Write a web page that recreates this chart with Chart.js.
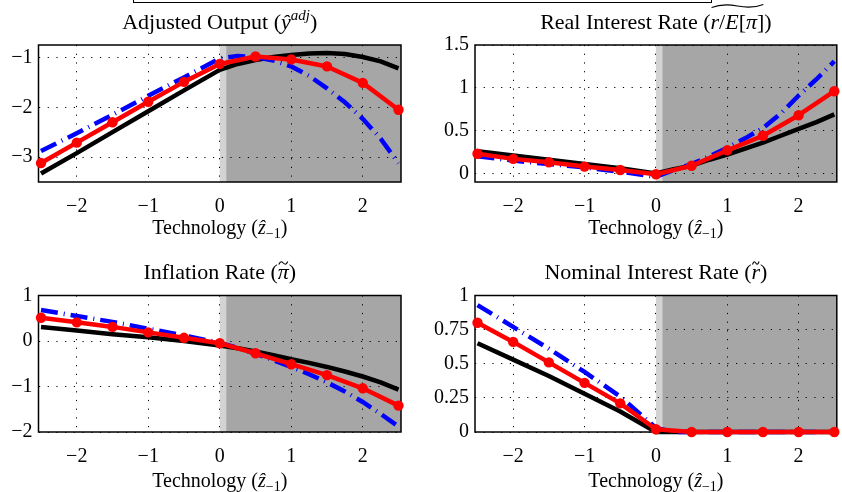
<!DOCTYPE html>
<html>
<head>
<meta charset="utf-8">
<script src="https://cdn.jsdelivr.net/npm/chart.js@4.4.1/dist/chart.umd.min.js"></script>
<style>
  html, body { margin: 0; padding: 0; background: #fff; }
  body { width: 842px; height: 492px; position: relative; overflow: hidden; }
  .panel { position: absolute; width: 421px; }
  .legend-box { position: absolute; left: 133px; top: -10px; width: 577px; height: 11px; border: 1.5px solid #000; }
</style>
</head>
<body>
<div class="legend-box"></div>
<div class="panel" style="left:0;top:0;height:246px"><canvas id="cOutput"></canvas></div>
<div class="panel" style="left:421px;top:0;height:246px"><canvas id="cReal"></canvas></div>
<div class="panel" style="left:0;top:250px;height:242px"><canvas id="cInfl"></canvas></div>
<div class="panel" style="left:421px;top:250px;height:242px"><canvas id="cNom"></canvas></div>
<script>
// technology grid (lines) and marker grid (red series)
const zFine = [-2.5, -2, -1.5, -1, -0.5, 0, 0.25, 0.5, 0.75, 1, 1.25, 1.5, 1.75, 2, 2.25, 2.5];
const zMarks = [-2.5, -2, -1.5, -1, -0.5, 0, 0.5, 1, 1.5, 2, 2.5];
const xTicks = [-2, -1, 0, 1, 2];

// adjusted output
const outputBlack = [-3.33, -2.92, -2.50, -2.08, -1.66, -1.25, -1.13, -1.05, -0.99, -0.95, -0.92, -0.91, -0.93, -0.99, -1.08, -1.22];
const outputBlue = [-2.88, -2.52, -2.15, -1.77, -1.40, -1.02, -0.97, -0.99, -1.06, -1.18, -1.37, -1.62, -1.90, -2.23, -2.63, -3.12];
const outputRed = [-3.12, -2.71, -2.30, -1.89, -1.49, -1.13, -0.98, -1.04, -1.18, -1.51, -2.05];
const outputTicks = [-3, -2, -1];

// real interest rate
const realBlack = [0.26, 0.21, 0.16, 0.11, 0.06, 0.0, 0.05, 0.09, 0.16, 0.22, 0.29, 0.36, 0.44, 0.52, 0.60, 0.69];
const realBlue = [0.20, 0.15, 0.11, 0.07, 0.02, -0.04, 0.04, 0.11, 0.20, 0.30, 0.41, 0.53, 0.70, 0.91, 1.10, 1.31];
const realRed = [0.23, 0.17, 0.13, 0.08, 0.04, -0.01, 0.09, 0.27, 0.44, 0.68, 0.96];
const realTicks = [0, 0.5, 1, 1.5];

// inflation
const inflBlack = [0.31, 0.23, 0.15, 0.08, 0.0, -0.10, -0.16, -0.23, -0.31, -0.40, -0.48, -0.57, -0.67, -0.78, -0.91, -1.07];
const inflBlue = [0.68, 0.55, 0.42, 0.27, 0.12, -0.04, -0.15, -0.28, -0.42, -0.57, -0.73, -0.91, -1.11, -1.34, -1.60, -1.88];
const inflRed = [0.51, 0.41, 0.31, 0.19, 0.07, -0.05, -0.27, -0.51, -0.75, -1.04, -1.42];
const inflTicks = [-2, -1, 0, 1];

// nominal interest rate
const nomBlack = [0.65, 0.53, 0.41, 0.28, 0.15, 0, 0, 0, 0, 0, 0, 0, 0, 0, 0, 0];
const nomBlue = [0.93, 0.77, 0.61, 0.44, 0.26, 0.03, 0, 0, 0, 0, 0, 0, 0, 0, 0, 0];
const nomRed = [0.80, 0.66, 0.51, 0.36, 0.21, 0.02, 0, 0, 0, 0, 0];
const nomTicks = [0, 0.25, 0.5, 0.75, 1];

const FONT = "'Liberation Serif', 'DejaVu Serif', serif";
// [text, style]: n = roman, i = italic, sup / sub = small raised / lowered
const xTitle = [["Technology (", "n"], ["ẑ", "i"], ["−1", "sub"], [")", "n"]];

const pts = (xs, ys) => xs.map((x, i) => ({ x, y: ys[i] }));
const fmt = (v) => String(v).replace("-", "\u2212");

function partFont(style, size) {
  if (style === "i") return `italic ${size}px ${FONT}`;
  if (style === "sup") return `italic ${Math.round(size * 0.68)}px ${FONT}`;
  if (style === "sub") return `${Math.round(size * 0.68)}px ${FONT}`;
  return `${size}px ${FONT}`;
}

// draws a run of mixed text centred on cx, returns [x0, x1] of each part
function drawParts(ctx, parts, cx, base, size) {
  const widths = parts.map(([t, s]) => { ctx.font = partFont(s, size); return ctx.measureText(t).width; });
  let x = cx - widths.reduce((a, b) => a + b, 0) / 2;
  const spans = [];
  ctx.textAlign = "left";
  ctx.textBaseline = "alphabetic";
  parts.forEach(([t, s], i) => {
    ctx.font = partFont(s, size);
    const dy = s === "sup" ? -size * 0.42 : s === "sub" ? size * 0.22 : 0;
    ctx.fillText(t, x, base + dy);
    spans.push([x, x + widths[i]]);
    x += widths[i];
  });
  return spans;
}

function tilde(ctx, x0, x1, y) {
  const q = x1 - x0;
  ctx.beginPath();
  ctx.lineWidth = 1.1;
  ctx.moveTo(x0, y + 1.5);
  ctx.bezierCurveTo(x0 + q * 0.2, y - 2.5, x0 + q * 0.35, y - 1.5, x0 + q * 0.5, y);
  ctx.bezierCurveTo(x0 + q * 0.65, y + 1.5, x0 + q * 0.8, y + 2.5, x1, y - 1.5);
  ctx.stroke();
}

const panelPlugin = {
  id: "panel",
  beforeDraw(chart) {
    const { ctx, chartArea: a, scales: { x } } = chart;
    const x0 = x.getPixelForValue(0), x1 = x.getPixelForValue(0.09);
    ctx.save();
    ctx.fillStyle = "#d3d3d3";
    ctx.fillRect(x0, a.top, x1 - x0, a.bottom - a.top);
    ctx.fillStyle = "#a6a6a6";
    ctx.fillRect(x1, a.top, a.right - x1, a.bottom - a.top);
    ctx.restore();
  },
  beforeDatasetsDraw(chart) {
    const { ctx, chartArea: a } = chart;
    ctx.save();
    ctx.strokeStyle = "#000";
    ctx.lineWidth = 1.5;
    ctx.strokeRect(a.left, a.top, a.right - a.left, a.bottom - a.top);
    ctx.restore();
  },
  afterDraw(chart, args, opts) {
    const { ctx, chartArea: a } = chart;
    const cx = (a.left + a.right) / 2;
    ctx.save();
    ctx.fillStyle = "#000";
    ctx.strokeStyle = "#000";
    const spans = drawParts(ctx, opts.title, cx, 29, 22);
    if (opts.tilde) tilde(ctx, spans[opts.tilde[0]][0] + 1, spans[opts.tilde[1]][1] - 1, opts.tilde[2]);
    drawParts(ctx, xTitle, cx, opts.xBase, 20);
    ctx.restore();
  }
};

function makeChart(id, cfg) {
  const tickFont = { family: FONT, size: 20 };
  new Chart(document.getElementById(id), {
    type: "line",
    data: {
      datasets: [
        { data: pts(zMarks, cfg.red), borderColor: "#ff0000", backgroundColor: "#ff0000", borderWidth: 4.5,
          pointRadius: 5.2, pointBorderWidth: 0, pointBackgroundColor: "#ff0000", clip: 8, borderJoinStyle: "round" },
        { data: pts(zFine, cfg.blue), borderColor: "#0000ff", borderWidth: 4.5, borderDash: [17, 6, 1, 6],
          pointRadius: 0, clip: 8 },
        { data: pts(zFine, cfg.black), borderColor: "#000000", borderWidth: 4.5, pointRadius: 0, clip: 8,
          borderJoinStyle: "round" },
      ],
    },
    options: {
      responsive: true,
      maintainAspectRatio: false,
      animation: false,
      layout: { padding: { left: 0, right: cfg.padRight, top: cfg.padTop, bottom: 0 } },
      plugins: {
        legend: { display: false },
        tooltip: { enabled: false },
        panel: { title: cfg.title, tilde: cfg.tilde, xBase: cfg.xBase },
      },
      scales: {
        x: {
          type: "linear",
          min: -2.535,
          max: 2.535,
          afterBuildTicks: (s) => { s.ticks = xTicks.map((v) => ({ value: v })); },
          afterFit: (s) => { s.height = cfg.xHeight; },
          grid: { color: "#000", lineWidth: 1, drawTicks: false },
          border: { display: false, dash: [1.2, 7.5] },
          ticks: { color: "#000", font: tickFont, padding: 13, callback: fmt, maxRotation: 0 },
        },
        y: {
          min: cfg.yMin,
          max: cfg.yMax,
          afterBuildTicks: (s) => { s.ticks = cfg.yTicks.map((v) => ({ value: v })); },
          afterFit: (s) => { s.width = cfg.yWidth; },
          grid: { color: "#000", lineWidth: 1, drawTicks: false },
          border: { display: false, dash: [1.2, 7.5] },
          ticks: { color: "#000", font: tickFont, padding: 6, callback: fmt },
        },
      },
    },
    plugins: [panelPlugin],
  });
}

makeChart("cOutput", {
  title: [["Adjusted Output (", "n"], ["ŷ", "i"], ["adj", "sup"], [")", "n"]],
  black: outputBlack, blue: outputBlue, red: outputRed,
  yTicks: outputTicks, yMin: -3.5, yMax: -0.75, yWidth: 38.5, padRight: 20, padTop: 45, xHeight: 64, xBase: 233.5 });
makeChart("cReal", {
  title: [["Real Interest Rate (", "n"], ["r", "i"], ["/", "n"], ["E", "i"], ["[", "n"], ["π", "i"], ["]", "n"], [")", "n"]],
  tilde: [1, 6, 6],
  black: realBlack, blue: realBlue, red: realRed,
  yTicks: realTicks, yMin: -0.1, yMax: 1.5, yWidth: 54, padRight: 5, padTop: 45, xHeight: 64, xBase: 233.5 });
makeChart("cInfl", {
  title: [["Inflation Rate (", "n"], ["π", "i"], [")", "n"]],
  tilde: [1, 1, 13],
  black: inflBlack, blue: inflBlue, red: inflRed,
  yTicks: inflTicks, yMin: -2, yMax: 1, yWidth: 38.5, padRight: 20, padTop: 45.5, xHeight: 60, xBase: 237 });
makeChart("cNom", {
  title: [["Nominal Interest Rate (", "n"], ["r", "i"], [")", "n"]],
  tilde: [1, 1, 13],
  black: nomBlack, blue: nomBlue, red: nomRed,
  yTicks: nomTicks, yMin: 0, yMax: 1, yWidth: 54, padRight: 5, padTop: 45.5, xHeight: 60, xBase: 237 });
</script>
</body>
</html>
